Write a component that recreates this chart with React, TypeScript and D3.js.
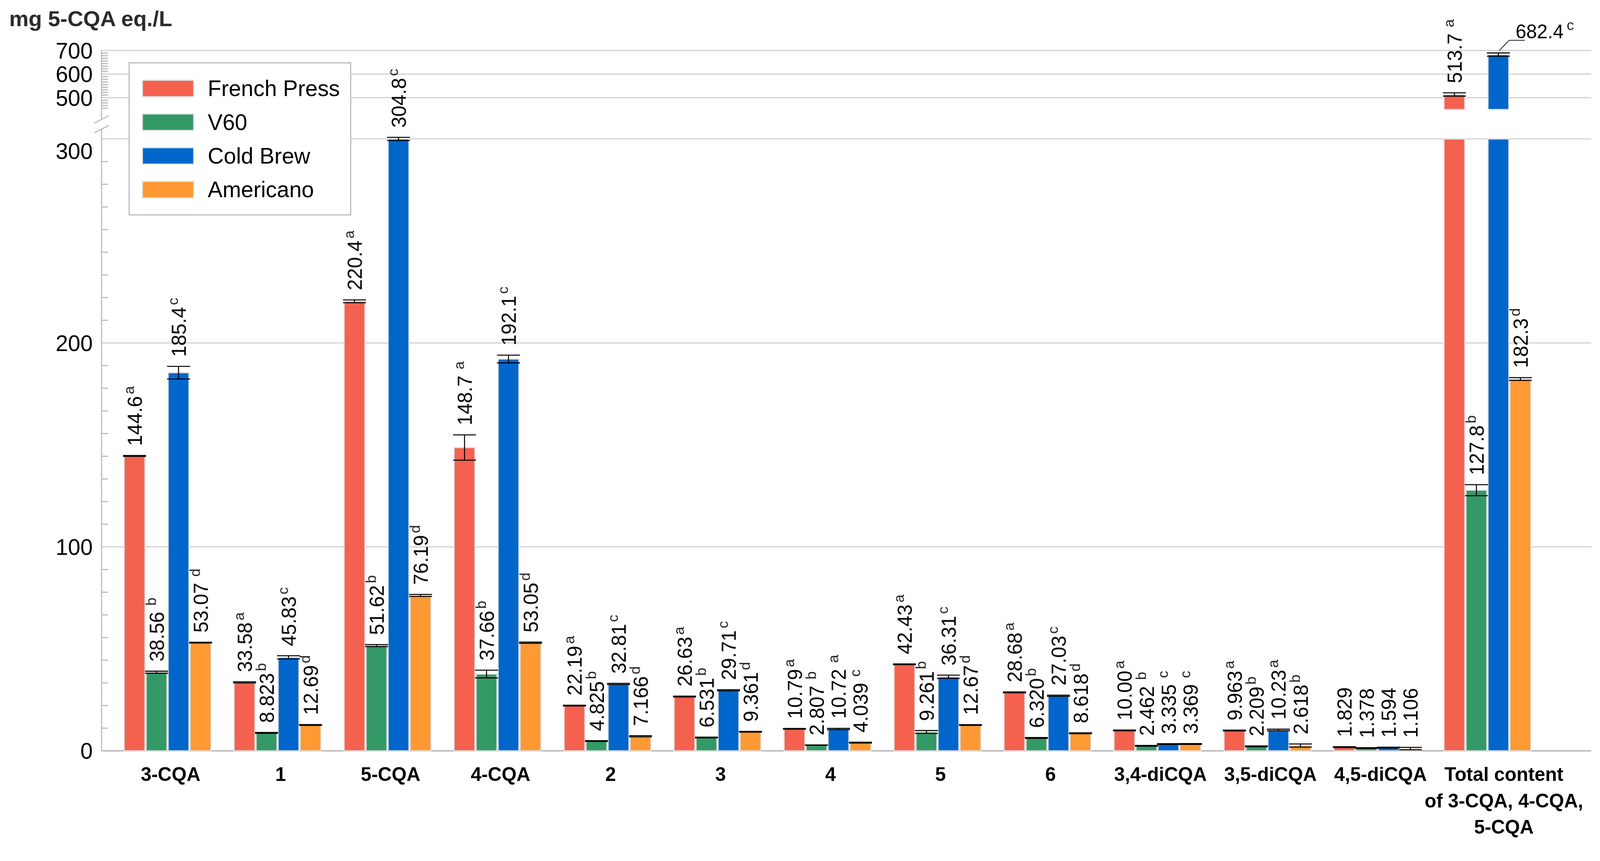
import React from "react";
import * as d3 from "d3";

// ---------- DATA ----------
const categories = [
  "3-CQA", "1", "5-CQA", "4-CQA", "2", "3", "4", "5", "6",
  "3,4-diCQA", "3,5-diCQA", "4,5-diCQA",
  "Total content\nof 3-CQA, 4-CQA,\n5-CQA",
];
const seriesNames = ["French Press", "V60", "Cold Brew", "Americano"];
const seriesColors = ["#F5614F", "#339966", "#0066CC", "#FF9933"];

const frenchPress = [144.6, 33.58, 220.4, 148.7, 22.19, 26.63, 10.79, 42.43, 28.68, 10.0, 9.963, 1.829, 513.7];
const v60 = [38.56, 8.823, 51.62, 37.66, 4.825, 6.531, 2.807, 9.261, 6.32, 2.462, 2.209, 1.378, 127.8];
const coldBrew = [185.4, 45.83, 304.8, 192.1, 32.81, 29.71, 10.72, 36.31, 27.03, 3.335, 10.23, 1.594, 682.4];
const americano = [53.07, 12.69, 76.19, 53.05, 7.166, 9.361, 4.039, 12.67, 8.618, 3.369, 2.618, 1.106, 182.3];

const sdFrenchPress = [0.2, 0.3, 0.7, 6.2, 0.2, 0.2, 0.2, 0.2, 0.2, 0.2, 0.2, 0.2, 7.0];
const sdV60 = [0.5, 0.2, 0.5, 1.9, 0.2, 0.2, 0.1, 0.7, 0.2, 0.2, 0.2, 0.2, 2.7];
const sdColdBrew = [3.1, 0.8, 0.8, 1.9, 0.3, 0.3, 0.3, 0.8, 0.3, 0.2, 0.4, 0.2, 7.0];
const sdAmericano = [0.2, 0.2, 0.5, 0.3, 0.3, 0.2, 0.2, 0.2, 0.2, 0.2, 0.75, 0.6, 0.7];

const textFrenchPress = ["144.6", "33.58", "220.4", "148.7", "22.19", "26.63", "10.79", "42.43", "28.68", "10.00", "9.963", "1.829", "513.7"];
const textV60 = ["38.56", "8.823", "51.62", "37.66", "4.825", "6.531", "2.807", "9.261", "6.320", "2.462", "2.209", "1.378", "127.8"];
const textColdBrew = ["185.4", "45.83", "304.8", "192.1", "32.81", "29.71", "10.72", "36.31", "27.03", "3.335", "10.23", "1.594", "682.4"];
const textAmericano = ["53.07", "12.69", "76.19", "53.05", "7.166", "9.361", "4.039", "12.67", "8.618", "3.369", "2.618", "1.106", "182.3"];

// leading space = visible gap before the letter
const lettersFrenchPress = ["a", "a", "a", " a", "a", "a", "a", "a", "a", "a", "a", "", " a"];
const lettersV60 = [" b", "b", "b", "b", "b", "b", " b", "b", "b", " b", "b", "", "b"];
const lettersColdBrew = ["c", "c", "c", "c", "c", "c", " a", "c", "c", " c", "a", "", "c"];
const lettersAmericano = [" d", "d", "d", "d", "d", "d", " c", "d", "d", " c", "b", "", "d"];

const lowerTicks = [0, 100, 200, 300];
const upperTicks = [500, 600, 700];
const yTitle = "mg 5-CQA eq./L";

const seriesValues = [frenchPress, v60, coldBrew, americano];
const seriesSd = [sdFrenchPress, sdV60, sdColdBrew, sdAmericano];
const seriesText = [textFrenchPress, textV60, textColdBrew, textAmericano];
const seriesLetters = [lettersFrenchPress, lettersV60, lettersColdBrew, lettersAmericano];

// ---------- LAYOUT ----------
const W = 4175;
const H = 2205;
const AXIS_X = 265;
const PLOT_RIGHT = 4152;
const LOW_MAX = 300;
const HIGH_MIN = 450;
const FONT = "'Liberation Sans', Arial, Helvetica, sans-serif";

const x0 = d3.scaleBand<string>().domain(categories).range([AXIS_X, 4053.4]).paddingInner(0.2).paddingOuter(0.2);
const x1 = d3.scaleBand<string>().domain(seriesNames).range([0, x0.bandwidth()]);
const yLow = d3.scaleLinear().domain([0, 300]).range([1960, 362.7]);
const yHigh = d3.scaleLinear().domain([500, 700]).range([255, 131.7]);

const GRID = "#d2d2d2";
const AXIS = "#bbbbbb";

function minorTicks(): { low: number[]; high: number[] } {
  const low: number[] = [];
  for (let m = 0; m < 300; m += 100) for (let k = 1; k <= 8; k++) low.push(m + (k * 100) / 9);
  const high: number[] = [];
  for (let k = 1; k <= 4; k++) high.push(500 - (k * 100) / 9);
  for (let m = 500; m < 700; m += 100) for (let k = 1; k <= 8; k++) high.push(m + (k * 100) / 9);
  return { low, high };
}

export default function App() {
  const { low, high } = minorTicks();
  const bw = x1.bandwidth();

  const bars: React.ReactNode[] = [];
  const errs: React.ReactNode[] = [];
  const labels: React.ReactNode[] = [];

  categories.forEach((cat, ci) => {
    seriesNames.forEach((s, si) => {
      const v = seriesValues[si][ci];
      const sd = seriesSd[si][ci];
      const bx = (x0(cat) as number) + (x1(s) as number);
      const cx = bx + bw / 2;
      const fill = seriesColors[si];
      const key = `${ci}-${si}`;
      const rectProps = { fill, stroke: "#e2e2e2", strokeWidth: 3 };
      const topLow = yLow(Math.min(v, LOW_MAX));
      bars.push(
        <rect key={"l" + key} x={bx + 1.5} y={topLow} width={bw - 3} height={yLow(0) - topLow} {...rectProps} />
      );
      let ySdTop: number;
      let ySdBot: number;
      if (v > HIGH_MIN) {
        const t = yHigh(v);
        bars.push(
          <rect key={"u" + key} x={bx + 1.5} y={t} width={bw - 3} height={yHigh(HIGH_MIN) - t} {...rectProps} />
        );
        ySdTop = yHigh(v + sd);
        ySdBot = yHigh(v - sd);
      } else {
        const c = Math.min(v, LOW_MAX);
        ySdTop = yLow(c + sd);
        ySdBot = yLow(c - sd);
      }
      const capW = 60;
      errs.push(
        <g key={"e" + key} stroke="#000" strokeWidth={2.6}>
          <line x1={cx} x2={cx} y1={ySdTop} y2={ySdBot} />
          <line x1={cx - capW / 2} x2={cx + capW / 2} y1={ySdTop} y2={ySdTop} />
          <line x1={cx - capW / 2} x2={cx + capW / 2} y1={ySdBot} y2={ySdBot} />
        </g>
      );
      const txt = seriesText[si][ci];
      const letRaw = seriesLetters[si][ci];
      const gap = letRaw.startsWith(" ") ? 16 : 5;
      const letter = letRaw.trim();
      const isLeader = ci === categories.length - 1 && s === "Cold Brew";
      if (isLeader) {
        const sx = cx + 2;
        const sy = ySdTop - 6;
        labels.push(
          <g key={"t" + key}>
            <polyline
              points={`${sx},${sy} ${sx + 26},${sy - 27} ${sx + 67},${sy - 27}`}
              fill="none"
              stroke="#222"
              strokeWidth={2}
            />
            <text x={sx + 43} y={sy - 32} fontFamily={FONT} fontSize={50} fill="#000">
              {txt}
              <tspan fontSize={38} dx={8} dy={-22} fill="#222">{letter}</tspan>
            </text>
          </g>
        );
      } else {
        const ly = ySdTop - 25;
        const lx = cx + 19;
        labels.push(
          <text
            key={"t" + key}
            transform={`translate(${lx},${ly}) rotate(-90)`}
            fontFamily={FONT}
            fontSize={52}
            fill="#000"
          >
            {txt}
            {letter && (
              <tspan fontSize={38} dx={gap} dy={-20} fill="#222">
                {letter}
              </tspan>
            )}
          </text>
        );
      }
    });
  });

  const gridVals = [
    ...upperTicks.map((t) => yHigh(t)),
    ...lowerTicks.filter((t) => t > 0).map((t) => yLow(t)),
  ];

  const legendTop = 164;
  return (
    <svg
      viewBox={`0 0 ${W} ${H}`}
      preserveAspectRatio="xMinYMin meet"
      style={{ position: "fixed", left: 0, top: 0, width: "100vw", height: "100vh", display: "block" }}
    >
      <rect x={0} y={0} width={W} height={H} fill="#fff" />

      {gridVals.map((y, i) => (
        <line key={"g" + i} x1={AXIS_X} x2={PLOT_RIGHT} y1={y} y2={y} stroke={GRID} strokeWidth={3} />
      ))}

      <line x1={AXIS_X} x2={PLOT_RIGHT} y1={yLow(0)} y2={yLow(0)} stroke={AXIS} strokeWidth={4} />

      <line x1={AXIS_X} x2={AXIS_X} y1={yHigh(700)} y2={311.7} stroke={AXIS} strokeWidth={3} />
      <line x1={AXIS_X} x2={AXIS_X} y1={337.2} y2={yLow(0)} stroke={AXIS} strokeWidth={3} />
      <line x1={246} y1={321.7} x2={284} y2={301.7} stroke={AXIS} strokeWidth={3} />
      <line x1={246} y1={346.7} x2={284} y2={327.7} stroke={AXIS} strokeWidth={3} />
      {low.map((v, i) => (
        <line key={"ml" + i} x1={AXIS_X} x2={AXIS_X + 17} y1={yLow(v)} y2={yLow(v)} stroke={AXIS} strokeWidth={3} />
      ))}
      {high.map((v, i) => (
        <line key={"mh" + i} x1={AXIS_X} x2={AXIS_X + 17} y1={yHigh(v)} y2={yHigh(v)} stroke={AXIS} strokeWidth={3} />
      ))}

      {lowerTicks.map((t) => (
        <text
          key={"yl" + t}
          x={242}
          y={yLow(t) + (t === 300 ? 31 : 0)}
          dy="0.36em"
          textAnchor="end"
          fontFamily={FONT}
          fontSize={58}
          fill="#000"
        >
          {t}
        </text>
      ))}
      {upperTicks.map((t) => (
        <text key={"yh" + t} x={242} y={yHigh(t)} dy="0.36em" textAnchor="end" fontFamily={FONT} fontSize={58} fill="#000">
          {t}
        </text>
      ))}

      <text x={24} y={68} fontFamily={FONT} fontSize={57} fontWeight="bold" fill="#2b2b2b">
        {yTitle}
      </text>

      {bars}
      {errs}
      {labels}

      {categories.map((c, i) => {
        const lines = c.split("\n");
        const isTotal = lines.length > 1;
        const cx = (x0(c) as number) + x0.bandwidth() / 2 + (isTotal ? 43 : 8);
        return (
          <text key={"xl" + i} textAnchor="middle" fontFamily={FONT} fontSize={50} fontWeight="bold" fill="#000">
            {lines.map((ln, li) => (
              <tspan key={li} x={cx} y={2039 + li * 68.5}>
                {ln}
              </tspan>
            ))}
          </text>
        );
      })}

      <rect x={337} y={legendTop} width={578} height={397} fill="#fff" stroke={AXIS} strokeWidth={3} />
      {seriesNames.map((s, i) => {
        const cy = 231 + i * 88;
        return (
          <g key={"lg" + s}>
            <rect x={371.5} y={cy - 21.5} width={134} height={43} fill={seriesColors[i]} stroke="#e2e2e2" strokeWidth={3} />
            <text x={542} y={cy + 20} fontFamily={FONT} fontSize={58} fill="#000">
              {s}
            </text>
          </g>
        );
      })}
    </svg>
  );
}
